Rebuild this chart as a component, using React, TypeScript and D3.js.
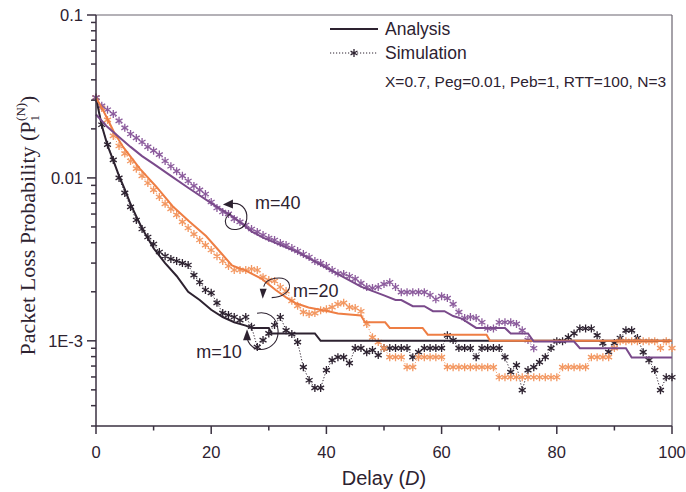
import * as d3 from "d3";

// simulated points, one per delay step
const simDelay = d3.range(0, 101);

const simM10 = [
  0.0311, 0.0212, 0.016, 0.0129, 0.01, 0.00809, 0.00664, 0.00552, 0.00486, 0.00434,
  0.00393, 0.00351, 0.00331, 0.00318, 0.00309, 0.003, 0.00292, 0.00253, 0.00229, 0.00205,
  0.00197, 0.00171, 0.00148, 0.00144, 0.0014, 0.00134, 0.0014, 0.00122, 0.000915, 0.00101,
  0.00111, 0.00125, 0.0014, 0.00116, 0.0011, 0.000982, 0.000689, 0.000573, 0.000514, 0.000514,
  0.000661, 0.000761, 0.000794, 0.000794, 0.000729, 0.000902, 0.000902, 0.000852, 0.000877, 0.000817,
  0.000902, 0.000902, 0.000902, 0.000902, 0.000902, 0.000794, 0.000852, 0.000902, 0.000902, 0.000902,
  0.000902, 0.00108, 0.00101, 0.000902, 0.000902, 0.000902, 0.000794, 0.000902, 0.000902, 0.000902,
  0.000902, 0.000794, 0.000643, 0.000709, 0.000498, 0.000661, 0.000689, 0.00074, 0.000794, 0.000902,
  0.000995, 0.000995, 0.00105, 0.00111, 0.00119, 0.00119, 0.00119, 0.00108, 0.000968, 0.000852,
  0.000968, 0.00104, 0.00116, 0.00116, 0.00104, 0.000852, 0.000761, 0.000661, 0.000498, 0.000598,
  0.000598,
];

const simM20 = [
  0.0311, 0.0269, 0.0227, 0.0181, 0.0157, 0.0141, 0.0127, 0.0114, 0.0103, 0.00931,
  0.00844, 0.00764, 0.00693, 0.00645, 0.00593, 0.00537, 0.00493, 0.00452, 0.00416, 0.00387,
  0.00361, 0.00331, 0.00309, 0.00288, 0.00272, 0.00272, 0.00272, 0.00276, 0.00272, 0.00246,
  0.00236, 0.00233, 0.00214, 0.00202, 0.00176, 0.00164, 0.0015, 0.00146, 0.00148, 0.00154,
  0.00156, 0.00161, 0.00168, 0.00171, 0.00161, 0.00159, 0.00152, 0.00127, 0.00105, 0.000982,
  0.000902, 0.000794, 0.000794, 0.000794, 0.000689, 0.000689, 0.000794, 0.000794, 0.000794, 0.000794,
  0.000794, 0.000689, 0.000689, 0.000689, 0.000689, 0.000689, 0.000689, 0.000689, 0.000689, 0.000689,
  0.000598, 0.000598, 0.000598, 0.000598, 0.000598, 0.000598, 0.000598, 0.000598, 0.000598, 0.000598,
  0.000598, 0.000689, 0.000689, 0.000689, 0.000689, 0.000689, 0.000794, 0.000794, 0.000794, 0.000794,
  0.000902, 0.000995, 0.000995, 0.000995, 0.000995, 0.000995, 0.000995, 0.000995, 0.000902, 0.000995,
  0.000902,
];

const simM40 = [
  0.0311, 0.0277, 0.0262, 0.0247, 0.0224, 0.0203, 0.0186, 0.0176, 0.0166, 0.0155,
  0.0147, 0.0139, 0.0127, 0.0118, 0.011, 0.0103, 0.00958, 0.00893, 0.00844, 0.00797,
  0.00712, 0.00654, 0.00618, 0.00601, 0.0056, 0.00537, 0.00514, 0.00486, 0.00466, 0.00446,
  0.00428, 0.00416, 0.00398, 0.00387, 0.00371, 0.00356, 0.00341, 0.00327, 0.00309, 0.003,
  0.00288, 0.00272, 0.0026, 0.00257, 0.00249, 0.0024, 0.00226, 0.00214, 0.00211, 0.00214,
  0.00223, 0.00229, 0.00214, 0.00199, 0.00199, 0.00199, 0.00199, 0.00199, 0.00191, 0.0018,
  0.00188, 0.00183, 0.00168, 0.0015, 0.00138, 0.0014, 0.00138, 0.0013, 0.00119, 0.00119,
  0.0013, 0.0013, 0.0013, 0.00127, 0.00116, 0.00101, 0.0009,
];

// analysis curves as [delay, probability]
const anaM10: [number, number][] = [
  [0, 0.031], [1, 0.021], [2, 0.0158], [3, 0.0128], [4, 0.0103], [5, 0.0085], [6, 0.0069],
  [7, 0.0058], [8, 0.0049], [10, 0.0037], [12, 0.003], [14, 0.0025], [16, 0.002], [18, 0.00178],
  [20, 0.00155], [22, 0.0014], [24, 0.0013], [26, 0.00124], [27, 0.0012], [30, 0.0012],
  [30.5, 0.00111], [38, 0.00111], [39, 0.001], [100, 0.001],
];

const anaM20: [number, number][] = [
  [0, 0.031], [1, 0.027], [2, 0.023], [3, 0.0195], [4.7, 0.0155], [7.6, 0.0114], [10.5, 0.0088],
  [13.3, 0.0067], [16.2, 0.0054], [19.1, 0.0044], [21.9, 0.0034], [23.6, 0.0029], [26, 0.0027],
  [28.8, 0.0024], [31.2, 0.00205], [33, 0.00185], [34.7, 0.0017], [36.9, 0.0016], [40.3, 0.00152],
  [42, 0.00147], [46, 0.00143], [46.7, 0.0013], [50.2, 0.0013], [51, 0.0012], [56.7, 0.0012],
  [57.6, 0.00109], [67.8, 0.00109], [68.4, 0.001], [100, 0.001],
];

const anaM40: [number, number][] = [
  [0, 0.0245], [2, 0.0205], [4, 0.0178], [6, 0.0155], [8, 0.0136], [10, 0.0122], [13, 0.0103],
  [16, 0.0087], [20, 0.007], [24, 0.0057], [27, 0.0047], [29, 0.0043], [35, 0.0035], [40, 0.0028],
  [46, 0.00215], [50, 0.0019], [52, 0.00178], [53, 0.00178], [55, 0.00163], [57, 0.00163],
  [58.5, 0.00152], [60.5, 0.00152], [62, 0.00142], [63.5, 0.00137], [66, 0.0012], [71, 0.0012],
  [72, 0.00111], [75, 0.00111], [76, 0.00099], [83, 0.00099], [84, 0.0009], [92, 0.0009],
  [93, 0.00079], [100, 0.00079],
];

const xMajor = [0, 20, 40, 60, 80, 100];
const xMinor = [10, 30, 50, 70, 90];
const yMajor = [0.1, 0.01, 0.001];
const yMajorLabels = ["0.1", "0.01", "1E-3"];

const legendItems = ["Analysis", "Simulation"];
const paramText = "X=0.7, Peg=0.01, Peb=1, RTT=100, N=3";

// label anchor [delay, probability] for each m annotation
const notes = [
  { label: "m=40", loop: [24.3, 0.0058], text: [27.6, 0.0071] },
  { label: "m=20", loop: [31.2, 0.00212], text: [34.2, 0.00205] },
  { label: "m=10", loop: [29, 0.00113], text: [25.3, 0.00086] },
];

const W = 686;
const H = 492;
const M = { left: 96, right: 672, top: 15, bottom: 426 };

const DARK = "#2d2230";
const ORANGE = "#ee7e44";
const ORANGE_M = "#f39862";
const PURPLE = "#7a4a8b";
const PURPLE_M = "#8c5c9d";
const AXIS = "#3a3140";
const SANS = "'Liberation Sans', Arial, Helvetica, sans-serif";
const SERIF = "'Liberation Serif', 'Times New Roman', serif";

const x = d3.scaleLinear().domain([0, 100]).range([M.left, M.right]);
const y = d3.scaleLog().domain([3e-4, 0.1]).range([M.bottom, M.top]);

const line = d3
  .line<[number, number]>()
  .x((d) => x(d[0]))
  .y((d) => y(d[1]));

const star = (r: number) => {
  const a = r * 0.866;
  const b = r * 0.5;
  return `M0,${-r}L0,${r}M${-a},${-b}L${a},${b}M${-a},${b}L${a},${-b}`;
};

const Sim = ({ vals, lineColor, markColor }: { vals: number[]; lineColor: string; markColor: string }) => {
  const pts = vals.map((v, i) => [simDelay[i], v] as [number, number]);
  return (
    <g>
      <path d={line(pts) || ""} fill="none" stroke={lineColor} strokeWidth={1} strokeDasharray="1.2,1.8" />
      {pts.map((p, i) => (
        <path
          key={i}
          d={star(4)}
          transform={`translate(${x(p[0])},${y(p[1])})`}
          stroke={markColor}
          strokeWidth={1.3}
          fill="none"
        />
      ))}
    </g>
  );
};

const Loop = ({ kind, cx, cy }: { kind: number; cx: number; cy: number }) => {
  let d = "";
  let head = "";
  if (kind === 0) {
    d = `M${cx - 4},${cy - 13} C${cx + 8},${cy - 14} ${cx + 13},${cy - 4} ${cx + 10},${cy + 6} C${cx + 7},${cy + 14} ${cx - 6},${cy + 16} ${cx - 10},${cy + 8} C${cx - 12},${cy + 3} ${cx - 9},${cy - 1} ${cx - 5},${cy - 3}`;
    head = `${cx - 13},${cy - 12} ${cx - 3},${cy - 17} ${cx - 3},${cy - 8}`;
  } else if (kind === 1) {
    d = `M${cx - 12},${cy - 1} C${cx - 10},${cy - 10} ${cx + 8},${cy - 13} ${cx + 13},${cy - 5} C${cx + 17},${cy + 3} ${cx + 6},${cy + 10} ${cx - 4},${cy + 10}`;
    head = `${cx - 13},${cy + 11} ${cx - 16},${cy + 1} ${cx - 9},${cy + 1}`;
  } else {
    d = `M${cx - 6},${cy - 19} C${cx + 4},${cy - 21} ${cx + 14},${cy - 16} ${cx + 15},${cy - 2} C${cx + 16},${cy + 12} ${cx + 4},${cy + 19} ${cx - 6},${cy + 17} C${cx - 12},${cy + 15} ${cx - 15},${cy + 10} ${cx - 16},${cy + 6}`;
    head = `${cx - 16},${cy - 3} ${cx - 20},${cy + 8} ${cx - 12},${cy + 8}`;
  }
  return (
    <g>
      <path d={d} fill="none" stroke={DARK} strokeWidth={1.1} />
      <polygon points={head} fill={DARK} />
    </g>
  );
};

export default function App() {
  const yMinor = y.ticks().filter((t) => !yMajor.some((m) => Math.abs(m - t) < 1e-9));
  return (
    <svg width={W} height={H} style={{ position: "absolute", left: 0, top: 0, background: "#fff" }}>
      {/* frame */}
      <line x1={M.left} x2={M.right} y1={M.top} y2={M.top} stroke="#6a6470" strokeWidth={1.2} />
      <line x1={M.right} x2={M.right} y1={M.top} y2={M.bottom} stroke="#6a6470" strokeWidth={1.2} />

      {/* curves */}
      <Sim vals={simM10} lineColor={DARK} markColor={DARK} />
      <Sim vals={simM20} lineColor={ORANGE_M} markColor={ORANGE_M} />
      <Sim vals={simM40} lineColor={PURPLE_M} markColor={PURPLE_M} />
      <path d={line(anaM10) || ""} fill="none" stroke={DARK} strokeWidth={2} />
      <path d={line(anaM20) || ""} fill="none" stroke={ORANGE} strokeWidth={2} />
      <path d={line(anaM40) || ""} fill="none" stroke={PURPLE} strokeWidth={2} />

      {/* axes */}
      <line x1={M.left} x2={M.right} y1={M.bottom} y2={M.bottom} stroke={AXIS} strokeWidth={1.5} />
      <line x1={M.left} x2={M.left} y1={M.top} y2={M.bottom} stroke={AXIS} strokeWidth={1.5} />
      {xMajor.map((t) => (
        <g key={t}>
          <line x1={x(t)} x2={x(t)} y1={M.bottom} y2={M.bottom + 8} stroke={AXIS} strokeWidth={1.5} />
          <text x={x(t)} y={458} textAnchor="middle" fontFamily={SANS} fontSize={16.5} fill={DARK}>
            {t}
          </text>
        </g>
      ))}
      {xMinor.map((t) => (
        <line key={t} x1={x(t)} x2={x(t)} y1={M.bottom} y2={M.bottom + 4.5} stroke={AXIS} strokeWidth={1.5} />
      ))}
      {yMajor.map((t, i) => (
        <g key={t}>
          <line x1={M.left - 9} x2={M.left} y1={y(t)} y2={y(t)} stroke={AXIS} strokeWidth={1.5} />
          <text x={83} y={y(t)} dy="0.36em" textAnchor="end" fontFamily={SANS} fontSize={16.5} fill={DARK}>
            {yMajorLabels[i]}
          </text>
        </g>
      ))}
      {yMinor.map((t) => (
        <line key={t} x1={M.left - 5} x2={M.left} y1={y(t)} y2={y(t)} stroke={AXIS} strokeWidth={1.5} />
      ))}

      <text x={(M.left + M.right) / 2} y={485} textAnchor="middle" fontFamily={SANS} fontSize={20} fill={DARK}>
        Delay (<tspan fontStyle="italic">D</tspan>)
      </text>
      <text
        transform={`translate(35,${(M.top + M.bottom) / 2 + 5}) rotate(-90)`}
        textAnchor="middle"
        fontFamily={SERIF}
        fontSize={22}
        fill={DARK}
      >
        Packet Loss Probability (P
        <tspan fontSize={13} dy={4}>1</tspan>
        <tspan fontSize={13} dx={-6} dy={-14}>(N)</tspan>
        <tspan dy={10}>)</tspan>
      </text>

      {/* legend */}
      <g transform="translate(330,29)" fontFamily={SANS} fill={DARK}>
        <line x1={0} x2={48} y1={0} y2={0} stroke={DARK} strokeWidth={2} />
        <line x1={0} x2={48} y1={24} y2={24} stroke={DARK} strokeWidth={1} strokeDasharray="1.2,1.8" />
        <path d={star(4)} transform="translate(24,24)" stroke={DARK} strokeWidth={1.3} fill="none" />
        {legendItems.map((l, i) => (
          <text key={l} x={55} y={i * 24} dy="0.36em" fontSize={17.5}>
            {l}
          </text>
        ))}
        <text x={55} y={52} dy="0.36em" fontSize={15.5}>
          {paramText}
        </text>
      </g>

      {/* m annotations */}
      {notes.map((n, i) => (
        <g key={n.label}>
          <Loop kind={i} cx={x(n.loop[0])} cy={y(n.loop[1])} />
          <text
            x={x(n.text[0])}
            y={y(n.text[1])}
            dy="0.36em"
            textAnchor={i === 2 ? "end" : "start"}
            fontFamily={SANS}
            fontSize={18}
            fill={DARK}
          >
            {n.label}
          </text>
        </g>
      ))}
    </svg>
  );
}
